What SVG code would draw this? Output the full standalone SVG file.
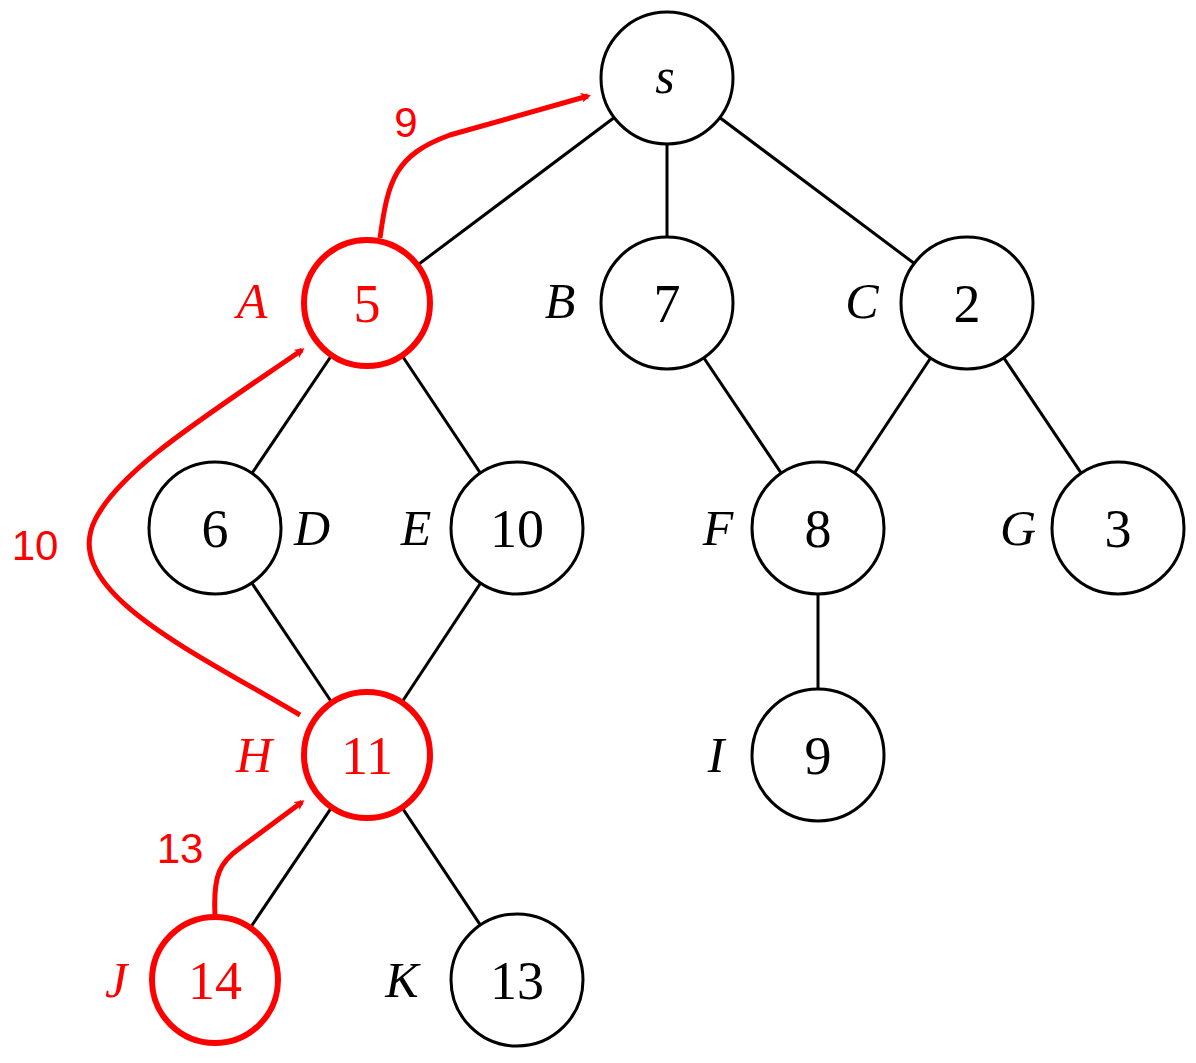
<svg xmlns="http://www.w3.org/2000/svg" width="1196" height="1063" viewBox="0 0 1196 1063">
<style>
.e{stroke:#000;stroke-width:3;fill:none}
.n{fill:#fff;stroke:#000;stroke-width:3}
.r{fill:#fff;stroke:#f00;stroke-width:6}
.v{font-family:"Liberation Serif",serif;font-size:54px;text-anchor:middle}
.l{font-family:"Liberation Serif",serif;font-style:italic;font-size:50px;text-anchor:middle}
.p{stroke:#f00;stroke-width:5;fill:none;marker-end:url(#ah)}
.w{font-family:"Liberation Sans",sans-serif;font-size:42px;fill:#f00;text-anchor:middle}
</style>
<defs><marker id="ah" markerWidth="10" markerHeight="10" refX="7" refY="5" orient="auto" markerUnits="userSpaceOnUse" viewBox="0 0 10 10"><path d="M0,0 L10,5 L0,10 L3,5 Z" fill="#f00" transform="scale(1)"/></marker></defs>
<g id="connectors">
<line class="e" x1="667" y1="78" x2="367" y2="303"/>
<line class="e" x1="667" y1="78" x2="667" y2="303"/>
<line class="e" x1="667" y1="78" x2="967" y2="303"/>
<line class="e" x1="367" y1="303" x2="215" y2="528"/>
<line class="e" x1="367" y1="303" x2="517" y2="528"/>
<line class="e" x1="667" y1="303" x2="818" y2="528"/>
<line class="e" x1="967" y1="303" x2="818" y2="528"/>
<line class="e" x1="967" y1="303" x2="1118" y2="528"/>
<line class="e" x1="215" y1="528" x2="367" y2="755"/>
<line class="e" x1="517" y1="528" x2="367" y2="755"/>
<line class="e" x1="818" y1="528" x2="818" y2="755"/>
<line class="e" x1="367" y1="755" x2="215" y2="980"/>
<line class="e" x1="367" y1="755" x2="517" y2="980"/>
</g>
<g id="s"><circle class="n" cx="667" cy="78" r="66"/><text class="l" x="665" y="93">s</text></g>
<g id="A"><circle class="r" cx="367" cy="303" r="63"/><text class="v" x="367" y="322" fill="#f00">5</text><text class="l" x="252" y="318" fill="#f00">A</text></g>
<g id="B"><circle class="n" cx="667" cy="303" r="66"/><text class="v" x="667" y="322">7</text><text class="l" x="560" y="318">B</text></g>
<g id="C"><circle class="n" cx="967" cy="303" r="66"/><text class="v" x="967" y="322">2</text><text class="l" x="862" y="318">C</text></g>
<g id="D"><circle class="n" cx="215" cy="528" r="66"/><text class="v" x="215" y="547">6</text><text class="l" x="312" y="545">D</text></g>
<g id="E"><circle class="n" cx="517" cy="528" r="66"/><text class="v" x="517" y="547">10</text><text class="l" x="416" y="545">E</text></g>
<g id="F"><circle class="n" cx="818" cy="528" r="66"/><text class="v" x="818" y="547">8</text><text class="l" x="718" y="545">F</text></g>
<g id="G"><circle class="n" cx="1118" cy="528" r="66"/><text class="v" x="1118" y="547">3</text><text class="l" x="1018" y="545">G</text></g>
<g id="H"><circle class="r" cx="367" cy="755" r="63"/><text class="v" x="367" y="774" fill="#f00">11</text><text class="l" x="254" y="772" fill="#f00">H</text></g>
<g id="I"><circle class="n" cx="818" cy="755" r="66"/><text class="v" x="818" y="774">9</text><text class="l" x="716" y="772">I</text></g>
<g id="J"><circle class="r" cx="215" cy="980" r="63"/><text class="v" x="215" y="999" fill="#f00">14</text><text class="l" x="116" y="997" fill="#f00">J</text></g>
<g id="K"><circle class="n" cx="517" cy="980" r="66"/><text class="v" x="517" y="999">13</text><text class="l" x="402" y="997">K</text></g>
<g id="paths">
<path class="p" d="M380,238 C388,180 395,155 450,135 L588,96"/>
<path class="p" d="M300,715 C190,650 60,590 95,520 C120,470 200,420 302,350"/>
<path class="p" d="M215,915 C213,875 220,862 240,848 L302,802"/>
<text class="w" x="406" y="137">9</text>
<text class="w" x="35" y="560">10</text>
<text class="w" x="180" y="863">13</text>
</g>
</svg>
